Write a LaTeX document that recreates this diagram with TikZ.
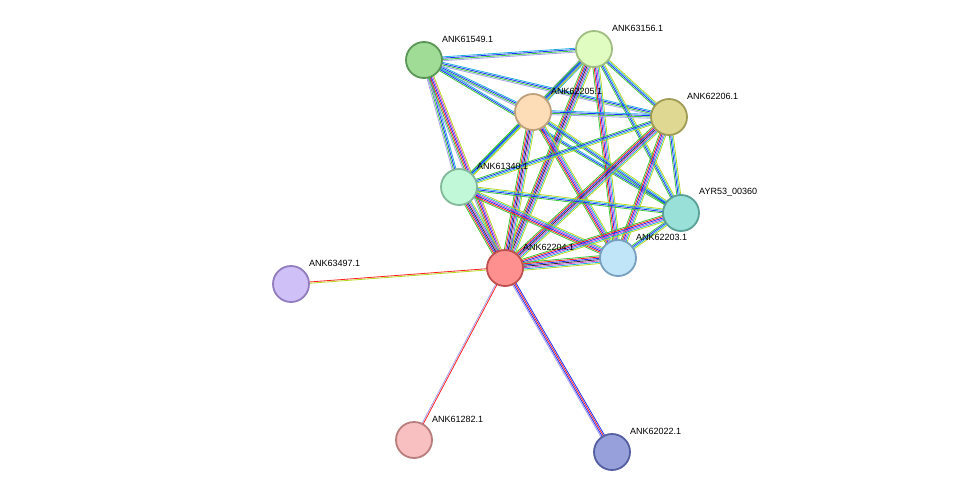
\documentclass[tikz,border=0pt]{standalone}
\usepackage{fontspec}
\setmainfont{Liberation Sans}
\usetikzlibrary{calc}
\definecolor{cnb}{HTML}{3CC83C}
\definecolor{cfu}{HTML}{FF2020}
\definecolor{cco}{HTML}{2030FF}
\definecolor{cex}{HTML}{D040D0}
\definecolor{cdb}{HTML}{20B0E0}
\definecolor{ctm}{HTML}{B8D820}
\definecolor{chm}{HTML}{A8A0F0}
\definecolor{cbk}{HTML}{303030}
\newcommand\edg[4]{%
  \foreach \cc [count=\ii] in {#4} {%
    \pgfmathsetmacro\oo{(\ii-(#3+1)/2)*1.3}%
    \draw[\cc, line width=0.8pt] ($(#1)!\oo pt!90:(#2)$) -- ($(#2)!\oo pt!-90:(#1)$);
  }}
\tikzset{prot/.style={circle, minimum size=36pt, inner sep=0pt, line width=1.8pt},
  lab/.style={anchor=west, font=\fontsize{9}{10}\selectfont, inner sep=1pt}}
\begin{document}
\begin{tikzpicture}[x=1pt,y=-1pt]
\useasboundingbox (0,0) rectangle (976,498);
\coordinate (a) at (424,60);
\coordinate (b) at (594,49);
\coordinate (c) at (533,112);
\coordinate (d) at (669,117);
\coordinate (e) at (459,187);
\coordinate (f) at (681,213);
\coordinate (g) at (618,258);
\coordinate (h) at (505,268);
\coordinate (i) at (291,284);
\coordinate (j) at (414,440);
\coordinate (k) at (612,452);
% cluster edges
\edg{a}{b}{4}{chm,cnb,cco,cdb}
\edg{a}{c}{4}{chm,cnb,cco,cdb}
\edg{a}{d}{4}{chm,cnb,cco,cdb}
\edg{a}{e}{4}{chm,cnb,cco,cdb}
\edg{a}{h}{6}{chm,cnb,cfu,cco,cex,ctm}
\edg{a}{f}{3}{cnb,cco,cdb}
\edg{b}{c}{5}{chm,cnb,cco,cex,cdb}
\edg{b}{d}{4}{cnb,cco,cdb,ctm}
\edg{b}{e}{4}{cnb,cco,cdb,ctm}
\edg{b}{f}{4}{cnb,cco,cdb,ctm}
\edg{b}{g}{6}{cnb,cfu,cco,cex,cdb,ctm}
\edg{b}{h}{7}{cnb,cfu,cco,cbk,cex,cdb,ctm}
\edg{c}{d}{4}{chm,cnb,cco,cdb}
\edg{c}{e}{4}{cnb,cco,cdb,ctm}
\edg{c}{f}{4}{cnb,cco,cdb,ctm}
\edg{c}{g}{6}{cnb,cfu,cco,cex,cdb,ctm}
\edg{c}{h}{7}{cnb,cfu,cco,cbk,cex,cdb,ctm}
\edg{d}{e}{4}{cnb,cco,cdb,ctm}
\edg{d}{f}{4}{cnb,cco,cdb,ctm}
\edg{d}{g}{6}{cnb,cfu,cco,cex,cdb,ctm}
\edg{d}{h}{7}{cnb,cfu,cco,cbk,cex,cdb,ctm}
\edg{e}{f}{4}{cnb,cco,cdb,ctm}
\edg{e}{g}{6}{cnb,cfu,cco,cex,cdb,ctm}
\edg{e}{h}{7}{cnb,cfu,cco,cbk,cex,cdb,ctm}
\edg{f}{g}{4}{cnb,cco,cdb,ctm}
\edg{f}{h}{6}{cnb,cfu,cco,cex,cdb,ctm}
\edg{g}{h}{7}{cnb,cfu,cco,cbk,cex,cdb,ctm}
\edg{h}{i}{2}{cfu,ctm}
\edg{h}{j}{2}{chm,cfu}
\edg{h}{k}{4}{chm,cco,cfu,cco}
% nodes
\node[prot, fill={rgb,255:red,160;green,220;blue,150}, draw={rgb,255:red,90;green,150;blue,85}] (na) at (a) {};
\node[prot, fill={rgb,255:red,225;green,252;blue,192}, draw={rgb,255:red,160;green,190;blue,130}] (nb) at (b) {};
\node[prot, fill={rgb,255:red,253;green,220;blue,184}, draw={rgb,255:red,190;green,160;blue,125}] (nc) at (c) {};
\node[prot, fill={rgb,255:red,222;green,216;blue,146}, draw={rgb,255:red,160;green,155;blue,85}] (nd) at (d) {};
\node[prot, fill={rgb,255:red,192;green,248;blue,216}, draw={rgb,255:red,130;green,185;blue,155}] (ne) at (e) {};
\node[prot, fill={rgb,255:red,152;green,224;blue,216}, draw={rgb,255:red,90;green,160;blue,150}] (nf) at (f) {};
\node[prot, fill={rgb,255:red,192;green,228;blue,248}, draw={rgb,255:red,120;green,160;blue,190}] (ng) at (g) {};
\node[prot, fill={rgb,255:red,255;green,144;blue,144}, draw={rgb,255:red,190;green,80;blue,80}] (nh) at (h) {};
\node[prot, fill={rgb,255:red,208;green,192;blue,248}, draw={rgb,255:red,145;green,125;blue,190}] (ni) at (i) {};
\node[prot, fill={rgb,255:red,248;green,192;blue,192}, draw={rgb,255:red,185;green,125;blue,125}] (nj) at (j) {};
\node[prot, fill={rgb,255:red,152;green,160;blue,220}, draw={rgb,255:red,85;green,95;blue,160}] (nk) at (k) {};
% labels
\node[lab] (la) at ($(a)+(17,-21)$) {ANK61549.1};
\node[lab] (lb) at ($(b)+(17,-21)$) {ANK63156.1};
\node[lab] (lc) at ($(c)+(17,-21)$) {ANK62205.1};
\node[lab] (ld) at ($(d)+(17,-21)$) {ANK62206.1};
\node[lab] (le) at ($(e)+(17,-21)$) {ANK61340.1};
\node[lab] (lf) at ($(f)+(17,-21)$) {AYR53\_00360};
\node[lab] (lg) at ($(g)+(17,-21)$) {ANK62203.1};
\node[lab] (lh) at ($(h)+(17,-21)$) {ANK62204.1};
\node[lab] (li) at ($(i)+(17,-21)$) {ANK63497.1};
\node[lab] (lj) at ($(j)+(17,-21)$) {ANK61282.1};
\node[lab] (lk) at ($(k)+(17,-21)$) {ANK62022.1};
\end{tikzpicture}
\end{document}
